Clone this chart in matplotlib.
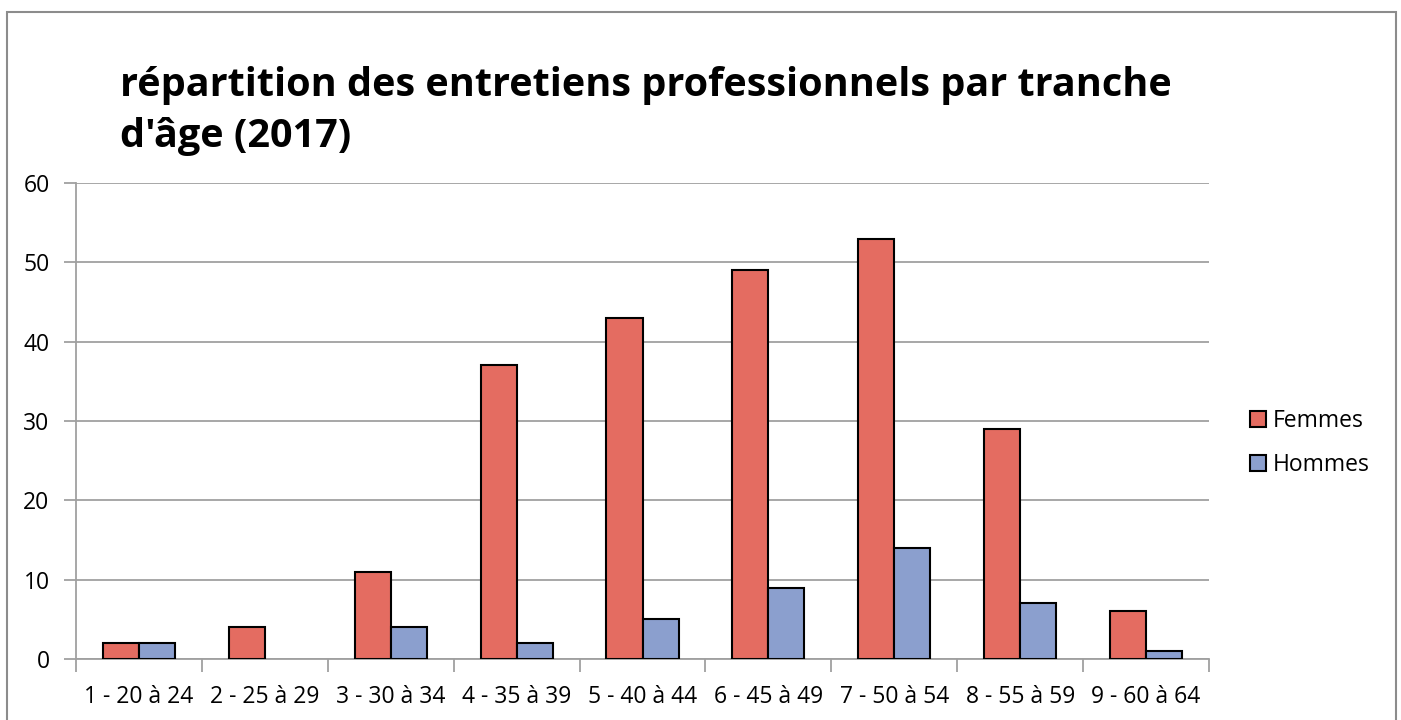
import matplotlib
matplotlib.use("Agg")
import matplotlib.pyplot as plt
from matplotlib.patches import Rectangle
import numpy as np

categories = ["1 - 20 à 24", "2 - 25 à 29", "3 - 30 à 34", "4 - 35 à 39", "5 - 40 à 44",
              "6 - 45 à 49", "7 - 50 à 54", "8 - 55 à 59", "9 - 60 à 64"]
femmes = [2, 4, 11, 37, 43, 49, 53, 29, 6]
hommes = [2, 0, 4, 2, 5, 9, 14, 7, 1]
series_names = ["Femmes", "Hommes"]
yticks = [0, 10, 20, 30, 40, 50, 60]

RED = "#E46C61"
BLUE = "#8B9FCE"
GRID = "#A0A0A0"

plt.rcParams['font.family'] = ['Open Sans', 'DejaVu Sans']

W, H = 1401, 720
fig = plt.figure(figsize=(W / 100, H / 100), dpi=100)

# outer chart border
fig.patches.append(Rectangle((7 / W, -0.01), (1396 - 7) / W, (H - 12) / H + 0.01,
                             transform=fig.transFigure, fill=False,
                             edgecolor="#8C8C8C", linewidth=1.5))

left, right, top, bottom = 76, 1209, 183, 659
ax = fig.add_axes([left / W, 1 - bottom / H, (right - left) / W, (bottom - top) / H])

x = np.arange(len(categories))
bw = 0.286
b1 = ax.bar(x - bw / 2, femmes, bw, color=RED, edgecolor="black", linewidth=1.5, label=series_names[0], zorder=3)
b2 = ax.bar(x + bw / 2, hommes, bw, color=BLUE, edgecolor="black", linewidth=1.5, label=series_names[1], zorder=3)
for bars in (b1, b2):
    for p in bars.patches:
        if p.get_height() == 0:
            p.set_visible(False)

ax.set_xlim(-0.5, len(categories) - 0.5)
ax.set_ylim(0, 60)
ax.set_yticks(yticks)
ax.set_yticklabels([str(t) for t in yticks], fontsize=16.5)
ax.yaxis.grid(True, color=GRID, linewidth=1.3, zorder=0)
ax.set_axisbelow(True)

ax.set_xticks(x)
ax.set_xticklabels(categories, fontsize=16.5)
ax.set_xticks(np.arange(len(categories) + 1) - 0.5, minor=True)
ax.tick_params(axis='x', which='major', length=0, pad=19)
ax.tick_params(axis='x', which='minor', length=9, color=GRID, width=1.3)
ax.tick_params(axis='y', length=9, color=GRID, width=1.3, pad=10)

for s in ["top", "right"]:
    ax.spines[s].set_visible(False)
for s in ["left", "bottom"]:
    ax.spines[s].set_color(GRID)
    ax.spines[s].set_linewidth(1.3)

fig.text(120 / W, 1 - 111 / H, "répartition des entretiens professionnels par tranche\nd'âge (2017)",
         fontsize=28.5, fontweight="bold", ha="left", va="center", linespacing=1.38)

leg = fig.legend(loc="center left", bbox_to_anchor=(1229 / W, 1 - 443 / H), frameon=False,
                 fontsize=16.5, handlelength=0.7, handleheight=0.7, handletextpad=0.3,
                 labelspacing=0.9)
for p in leg.get_patches():
    p.set_linewidth(1.5)

fig.savefig("out.png", dpi=100)
